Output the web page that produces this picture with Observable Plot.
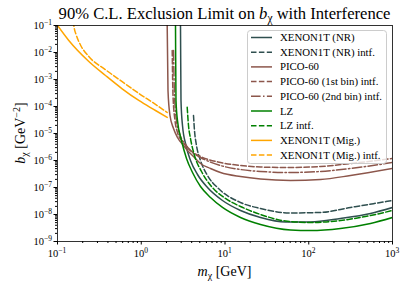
<!DOCTYPE html>
<html><head><meta charset="utf-8">
<script src="https://cdn.jsdelivr.net/npm/d3@7"></script>
<script src="https://cdn.jsdelivr.net/npm/@observablehq/plot@0.6"></script>
<style>body{margin:0;background:#fff;} svg{font-family:"Liberation Serif",serif;}</style>
</head><body><div id="chart"></div>
<script>
// ---- tick exponents ----
const xTickExps = [-1, 0, 1, 2, 3];
const yTickExps = [-9, -8, -7, -6, -5, -4, -3, -2, -1];

// ---- series data (mass in GeV, b in GeV^-2) ----
const m_xnr = [2.926, 2.942, 2.982, 3.108, 3.422, 3.873, 4.695, 6.180, 9.335, 15.31, 26.55, 52.77, 104.9, 239.3, 546.2, 1000];
const b_xnr = [0.843, 0.1, 1.67e-4, 1.98e-5, 3.60e-6, 1.0e-6, 3.03e-7, 1.0e-7, 3.30e-8, 1.41e-8, 7.74e-9, 5.27e-9, 5.27e-9, 7.11e-9, 1.09e-8, 1.82e-8];

const m_xnr_i = [4.206, 4.323, 4.567, 5.100, 6.180, 8.364, 15.31, 26.55, 60.55, 138.1, 315.1, 1000];
const b_xnr_i = [4.64e-5, 1.29e-5, 3.60e-6, 1.0e-6, 2.78e-7, 9.18e-8, 2.78e-8, 1.67e-8, 1.14e-8, 1.19e-8, 1.82e-8, 3.30e-8];

const m_pico = [2.030, 2.041, 2.086, 2.204, 2.428, 2.709, 3.196, 3.566, 4.206, 5.100, 6.714, 8.837, 15.31, 26.55, 60.55, 138.1, 315.1, 1000];
const b_pico = [0.843, 0.1, 3.92e-4, 4.64e-5, 1.53e-5, 7.11e-6, 3.60e-6, 2.35e-6, 1.41e-6, 7.74e-7, 5.06e-7, 3.60e-7, 2.55e-7, 2.06e-7, 1.82e-7, 1.98e-7, 2.78e-7, 5.06e-7];

const m_pico1 = [2.343, 2.394, 2.529, 2.709, 3.108, 3.873, 5.100, 8.837, 15.31, 26.55, 60.55, 138.1, 315.1, 1000];
const b_pico1 = [1.187e-2, 2.55e-4, 3.03e-5, 1.09e-5, 5.06e-6, 2.35e-6, 1.41e-6, 8.43e-7, 6.53e-7, 5.74e-7, 5.51e-7, 6.0e-7, 7.74e-7, 1.19e-6];

const m_pico2 = [2.428, 2.495, 2.635, 2.862, 3.376, 4.092, 5.100, 8.837, 15.31, 26.55, 60.55, 138.1, 315.1, 1000];
const b_pico2 = [1.187e-2, 2.55e-4, 3.03e-5, 1.0e-5, 3.92e-6, 1.98e-6, 1.29e-6, 6.53e-7, 4.64e-7, 3.92e-7, 3.60e-7, 3.92e-7, 5.06e-7, 8.43e-7];

const m_lz = [2.550, 2.564, 2.599, 2.709, 3.024, 3.470, 4.092, 5.100, 6.714, 9.335, 15.31, 26.55, 60.55, 104.9, 239.3, 546.2, 1000];
const b_lz = [0.843, 0.1, 1.67e-4, 3.03e-5, 5.51e-6, 1.19e-6, 3.60e-7, 1.09e-7, 4.26e-8, 1.82e-8, 7.74e-9, 4.26e-9, 2.67e-9, 2.55e-9, 3.03e-9, 4.64e-9, 7.74e-9];

const m_lz_i = [3.537, 3.666, 3.873, 4.323, 5.242, 6.901, 10.14, 15.31, 26.55, 52.77, 104.9, 239.3, 546.2, 1000];
const b_lz_i = [9.42e-5, 1.98e-5, 6.53e-6, 1.53e-6, 3.92e-7, 1.09e-7, 3.92e-8, 1.98e-8, 1.0e-8, 5.74e-9, 5.06e-9, 6.0e-9, 9.18e-9, 1.41e-8];

const m_mig = [0.1, 0.1364, 0.2365, 0.3742, 0.5922, 0.9348, 1.480, 2.041];
const b_mig = [0.1, 0.0278, 4.64e-3, 1.41e-3, 4.53e-4, 1.67e-4, 7.11e-5, 3.92e-5];

const m_mig_i = [0.1545, 0.1566, 0.1672, 0.1882, 0.2365, 0.3742, 0.5922, 0.9348, 1.480, 2.041];
const b_mig_i = [0.15, 0.1, 0.045, 0.019, 7.1e-3, 2.3e-3, 8.3e-4, 3.05e-4, 1.2e-4, 6.0e-5];

const seriesLabels = ["XENON1T (NR)", "XENON1T (NR) intf.", "PICO-60", "PICO-60 (1st bin) intf.", "PICO-60 (2nd bin) intf.", "LZ", "LZ intf.", "XENON1T (Mig.)", "XENON1T (Mig.) intf."];
const seriesMass = [m_xnr, m_xnr_i, m_pico, m_pico1, m_pico2, m_lz, m_lz_i, m_mig, m_mig_i];
const seriesB = [b_xnr, b_xnr_i, b_pico, b_pico1, b_pico2, b_lz, b_lz_i, b_mig, b_mig_i];
const seriesColor = ["#2f4f4f", "#2f4f4f", "#8c564b", "#8c564b", "#8c564b", "#008000", "#008000", "#ffa500", "#ffa500"];
const seriesDash = [null, "5.5,2.4", null, "5.5,2.4", "9.6,2.4,1.5,2.4", null, "5.5,2.4", null, "5.5,2.4"];

// ---- build ----
const W = 407, H = 287;
const mL = 57, mR = 15, mT = 25, mB = 46;
const majorX = xTickExps.map(e => 10 ** e);
const majorY = yTickExps.map(e => 10 ** e);
const minorX = []; for (let e = -1; e < 3; e++) for (let k = 2; k < 10; k++) minorX.push(k * 10 ** e);
const minorY = []; for (let e = -9; e < -1; e++) for (let k = 2; k < 10; k++) minorY.push(k * 10 ** e);

const lineMarks = seriesLabels.map((lab, i) => {
  const rows = seriesMass[i].map((m, j) => ({m, b: seriesB[i][j]}));
  return Plot.line(rows, {x: "m", y: "b", stroke: seriesColor[i], strokeWidth: 1.5,
    strokeDasharray: seriesDash[i] || undefined, curve: "monotone-x", clip: true});
});

const plot = Plot.plot({
  width: W, height: H, marginLeft: mL, marginRight: mR, marginTop: mT, marginBottom: mB,
  style: {fontFamily: "Liberation Serif, serif", background: "white", overflow: "visible"},
  x: {type: "log", domain: [0.1, 1000]},
  y: {type: "log", domain: [1e-9, 1e-1]},
  marks: [
    ...lineMarks,
    Plot.axisX({ticks: majorX, tickSize: 3.5, tickFormat: () => "", label: null}),
    Plot.axisX({ticks: minorX, tickSize: 2, tickFormat: () => "", label: null}),
    Plot.axisY({ticks: majorY, tickSize: 3.5, tickFormat: () => "", label: null}),
    Plot.axisY({ticks: minorY, tickSize: 2, tickFormat: () => "", label: null}),
    Plot.frame({stroke: "#000", strokeWidth: 0.8})
  ]
});
document.getElementById("chart").appendChild(plot);

const sx = plot.scale("x"), sy = plot.scale("y");
const svg = d3.select(plot);
const F = "Liberation Serif, serif";

// tick labels
const gt = svg.append("g").attr("font-family", F).attr("fill", "#000");
xTickExps.forEach(e => {
  const t = gt.append("text").attr("x", sx.apply(10 ** e)).attr("y", H - mB + 16)
    .attr("text-anchor", "middle").attr("font-size", 10.5);
  t.append("tspan").text("10");
  t.append("tspan").attr("font-size", 7.5).attr("dy", -4.5).text(e < 0 ? "\u2212" + (-e) : String(e));
});
yTickExps.forEach(e => {
  const t = gt.append("text").attr("x", mL - 5).attr("y", sy.apply(10 ** e) + 4)
    .attr("text-anchor", "end").attr("font-size", 10.5);
  t.append("tspan").text("10");
  t.append("tspan").attr("font-size", 7.5).attr("dy", -4.5).text(e < 0 ? "\u2212" + (-e) : String(e));
});

// title
const cx = (mL + W - mR) / 2;
const title = svg.append("text").attr("x", cx).attr("y", 19).attr("text-anchor", "middle")
  .attr("font-family", F).attr("font-size", 16.6).attr("fill", "#000");
title.append("tspan").text("90% C.L. Exclusion Limit on ");
title.append("tspan").attr("font-style", "italic").text("b");
title.append("tspan").attr("font-size", 11.5).attr("dy", 3).text("\u03c7");
title.append("tspan").attr("dy", -3).text(" with Interference");

// x label
const xl = svg.append("text").attr("x", cx).attr("y", 276).attr("text-anchor", "middle")
  .attr("font-family", F).attr("font-size", 14).attr("fill", "#000");
xl.append("tspan").attr("font-style", "italic").text("m");
xl.append("tspan").attr("font-size", 10).attr("dy", 3).text("\u03c7");
xl.append("tspan").attr("dy", -3).text(" [GeV]");

// y label
const yl = svg.append("text").attr("transform", `translate(25,${(mT + H - mB) / 2}) rotate(-90)`)
  .attr("text-anchor", "middle").attr("font-family", F).attr("font-size", 14).attr("fill", "#000");
yl.append("tspan").attr("font-style", "italic").text("b");
yl.append("tspan").attr("font-size", 10).attr("dy", 3).text("\u03c7");
yl.append("tspan").attr("dy", -3).text("\u00a0[GeV");
yl.append("tspan").attr("font-size", 10).attr("dy", -5).text("\u22122");
yl.append("tspan").attr("dy", 5).text("]");

// legend
const lg = svg.append("g");
lg.append("rect").attr("x", 247.5).attr("y", 30.5).attr("width", 139).attr("height", 133)
  .attr("rx", 3).attr("fill", "#ffffff").attr("fill-opacity", 0.8)
  .attr("stroke", "#cccccc").attr("stroke-width", 1);
seriesLabels.forEach((lab, i) => {
  const yy = 37.5 + i * 14.7;
  lg.append("line").attr("x1", 251).attr("x2", 272).attr("y1", yy).attr("y2", yy)
    .attr("stroke", seriesColor[i]).attr("stroke-width", 1.5)
    .attr("stroke-dasharray", seriesDash[i] || null);
  lg.append("text").attr("x", 280).attr("y", yy + 3.5).attr("text-anchor", "start")
    .attr("font-family", F).attr("font-size", 10.8).attr("fill", "#000").text(lab);
});
</script></body></html>
